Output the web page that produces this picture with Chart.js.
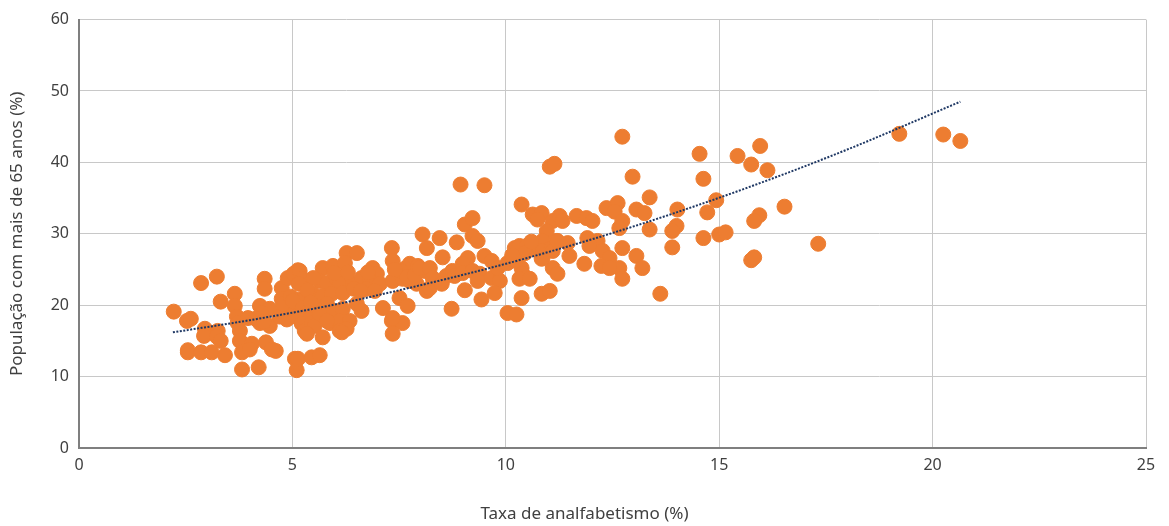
<!DOCTYPE html>
<html>
<head>
<meta charset="utf-8">
<script src="https://cdn.jsdelivr.net/npm/chart.js@4.4.1/dist/chart.umd.min.js"></script>
<style>
html,body{margin:0;padding:0;background:#fff;}
#wrap{width:1169px;height:526px;position:relative;}
</style>
</head>
<body>
<div id="wrap"><canvas id="c" width="1169" height="526"></canvas></div>
<script>
// Taxa de analfabetismo (%) – x values
const analfabetismo = [
2.22,2.53,2.62,2.55,2.55,2.86,2.95,2.93,2.86,3.11,3.23,3.32,3.25,3.23,3.32,3.42,3.65,3.65,3.70,3.72,3.77,3.77,3.82,3.82,4.05,4.00,4.21,3.96,4.24,4.47,4.24,4.47,4.35,4.35,4.38,4.61,4.52,4.75,4.75,4.89,5.10,4.82,4.94,4.87,5.06,5.10,5.13,5.08,5.08,5.17,4.28,4.14,4.70,4.78,4.96,4.33,
5.03,5.17,5.24,5.01,5.24,5.34,5.22,5.29,5.13,5.45,5.64,5.71,5.95,6.27,6.51,6.23,5.64,5.81,6.04,6.11,5.48,5.71,5.92,6.18,6.41,6.62,5.57,5.81,5.95,6.18,6.51,6.62,5.45,5.52,5.71,5.88,6.11,6.11,6.34,6.27,6.88,6.98,6.81,7.05,6.74,6.93,7.12,5.34,5.64,5.81,6.16,5.15,5.49,5.35,5.98,6.30,6.44,6.60,6.77,5.43,
7.33,7.35,7.44,7.63,7.75,7.94,8.10,7.35,7.58,7.75,7.91,7.51,7.70,7.33,7.58,7.35,7.35,8.15,8.22,8.61,8.75,7.54,7.69,7.86,7.40,
8.94,9.50,8.05,8.45,8.85,9.04,9.22,9.22,9.34,8.15,8.52,9.11,8.99,9.50,9.67,7.98,8.22,8.29,8.50,8.80,8.99,9.22,9.39,9.34,9.67,9.86,9.81,10.04,9.04,9.43,8.73,9.74,10.04,10.25,
10.37,10.37,10.63,10.84,10.74,11.10,10.96,10.86,10.21,10.32,10.49,10.67,10.86,11.07,11.19,10.25,10.37,10.39,10.32,10.56,10.84,11.10,10.84,11.03,11.10,
12.73,11.03,11.14,12.97,13.37,12.36,12.62,12.55,13.06,13.25,14.02,14.00,13.90,11.26,11.33,11.66,11.89,12.03,12.73,12.66,13.37,11.21,11.45,11.91,12.15,10.86,11.49,11.96,12.73,12.27,12.43,12.66,12.73,12.24,12.43,13.06,13.20,11.84,13.90,11.21,13.62,10.45,10.60,10.15,
14.54,14.63,15.43,15.75,15.96,16.13,14.93,14.72,16.53,15.94,15.82,14.63,15.00,15.15,17.32,15.75,15.82,19.22,20.25,20.65
];
// População com mais de 65 anos (%) – y values
const idosos = [
19.1,17.8,18.1,13.4,13.7,23.1,16.7,15.7,13.4,13.4,24.0,20.5,16.4,15.6,15.0,13.0,21.6,19.9,18.4,17.5,16.4,15.0,11.0,13.4,14.6,13.8,11.3,18.2,19.9,19.5,17.5,17.1,23.7,22.3,14.8,13.6,13.8,22.4,20.9,23.8,24.0,19.4,19.9,18.0,12.5,10.9,24.9,19.2,18.4,20.8,18.9,18.1,18.4,20.2,21.2,17.7,
24.4,24.8,23.7,20.6,19.6,18.9,17.4,16.4,12.5,12.7,13.0,25.2,25.5,27.3,27.3,25.9,23.4,23.1,23.7,23.0,21.6,21.3,21.6,21.7,23.0,23.8,19.6,20.2,19.2,19.5,20.2,19.2,17.5,17.1,15.5,17.5,17.8,16.4,17.8,16.7,25.2,24.4,23.4,23.0,22.3,22.0,19.6,16.0,18.8,17.8,16.2,23.0,23.8,22.1,24.5,24.6,22.3,22.0,24.6,20.4,
28.0,26.2,24.5,25.1,25.8,25.5,24.8,23.4,23.7,23.4,23.0,21.0,19.9,17.8,17.5,16.0,18.2,22.0,22.4,24.1,24.8,24.8,24.0,24.2,25.0,
36.9,36.8,29.9,29.4,28.8,31.3,32.2,29.7,29.0,28.0,26.7,26.6,25.8,26.9,26.2,25.2,25.2,23.8,23.0,24.1,24.5,24.8,24.4,23.4,23.8,23.4,25.2,25.9,22.1,20.8,19.5,21.7,18.9,18.7,
21.0,34.1,32.7,32.9,32.0,31.8,30.4,29.0,28.0,28.3,28.3,27.9,27.6,28.0,29.0,26.2,25.2,24.4,23.7,23.7,26.5,25.2,21.6,22.0,27.6,
43.6,39.4,39.8,38.0,35.1,33.6,34.3,33.1,33.4,32.9,33.4,31.1,30.4,32.5,31.8,32.5,32.2,31.8,31.8,30.8,30.6,29.0,28.7,29.4,29.0,26.6,26.9,28.3,28.0,27.6,26.6,25.2,23.7,25.5,25.2,26.9,25.2,25.8,28.1,24.4,21.6,27.3,28.9,27.0,
41.2,37.7,40.9,39.7,42.3,38.9,34.7,33.0,33.8,32.6,31.8,29.4,29.9,30.2,28.6,26.3,26.7,44.0,43.9,43.0
];
// Linha de tendência
const tendenciaX = [2.2, 4, 6, 8, 10, 12, 14, 16, 18, 20.65];
const tendenciaY = [16.2, 17.9, 20.1, 22.8, 25.8, 29.2, 33.0, 37.2, 41.8, 48.5];
const xTicks = [0, 5, 10, 15, 20, 25];
const yTicks = [0, 10, 20, 30, 40, 50, 60];
const tituloX = 'Taxa de analfabetismo (%)';
const tituloY = 'População com mais de 65 anos (%)';

const pontos = analfabetismo.map((x, i) => ({x: x, y: idosos[i]}));
const tendencia = tendenciaX.map((x, i) => ({x: x, y: tendenciaY[i]}));

const FONT = "'Liberation Sans Narrow','Noto Sans','DejaVu Sans Condensed',sans-serif";
const TITLE_FONT = "17px 'Noto Sans', sans-serif";
const TXT = '#404040';

// x-axis title, centred on the whole figure as in the reference
const xTitlePlugin = {
  id: 'xTitle',
  afterDraw(chart) {
    const ctx = chart.ctx;
    ctx.save();
    ctx.font = TITLE_FONT;
    ctx.fillStyle = TXT;
    ctx.textAlign = 'center';
    ctx.textBaseline = 'middle';
    ctx.fillText(tituloX, chart.width / 2, 514);
    ctx.restore();
  }
};

new Chart(document.getElementById('c'), {
  type: 'scatter',
  data: {
    datasets: [
      {
        label: 'Tendência',
        data: tendencia,
        showLine: true,
        borderColor: '#1F3864',
        borderWidth: 2,
        borderDash: [2, 1.5],
        pointRadius: 0,
        fill: false,
        cubicInterpolationMode: 'monotone',
        order: 0
      },
      {
        label: 'Municípios',
        data: pontos,
        backgroundColor: '#ED7D31',
        borderColor: '#ED7D31',
        borderWidth: 1,
        pointRadius: 7.5,
        order: 1
      }
    ]
  },
  plugins: [xTitlePlugin],
  options: {
    responsive: false,
    animation: false,
    layout: {padding: {left: 0, right: 23, top: 18, bottom: 0}},
    plugins: {legend: {display: false}, tooltip: {enabled: false}},
    scales: {
      x: {
        type: 'linear', min: 0, max: 25,
        afterBuildTicks: s => { s.ticks = xTicks.map(v => ({value: v})); },
        afterFit: s => { s.height = 78; },
        ticks: {font: {family: FONT, size: 16}, color: TXT, padding: 8},
        grid: {color: '#c8c8c8', lineWidth: 1, drawTicks: false},
        border: {display: true, color: '#7f7f7f', width: 2},
        title: {display: false}
      },
      y: {
        type: 'linear', min: 0, max: 60,
        afterBuildTicks: s => { s.ticks = yTicks.map(v => ({value: v})); },
        afterFit: s => { s.width = 79; },
        ticks: {font: {family: FONT, size: 16}, color: TXT, padding: 10},
        grid: {color: '#c8c8c8', lineWidth: 1, drawTicks: false},
        border: {display: true, color: '#7f7f7f', width: 2},
        title: {display: true, text: tituloY, font: {family: "'Noto Sans',sans-serif", size: 17}, color: TXT, padding: {top: 7, bottom: 0}}
      }
    }
  }
});
</script>
</body>
</html>
